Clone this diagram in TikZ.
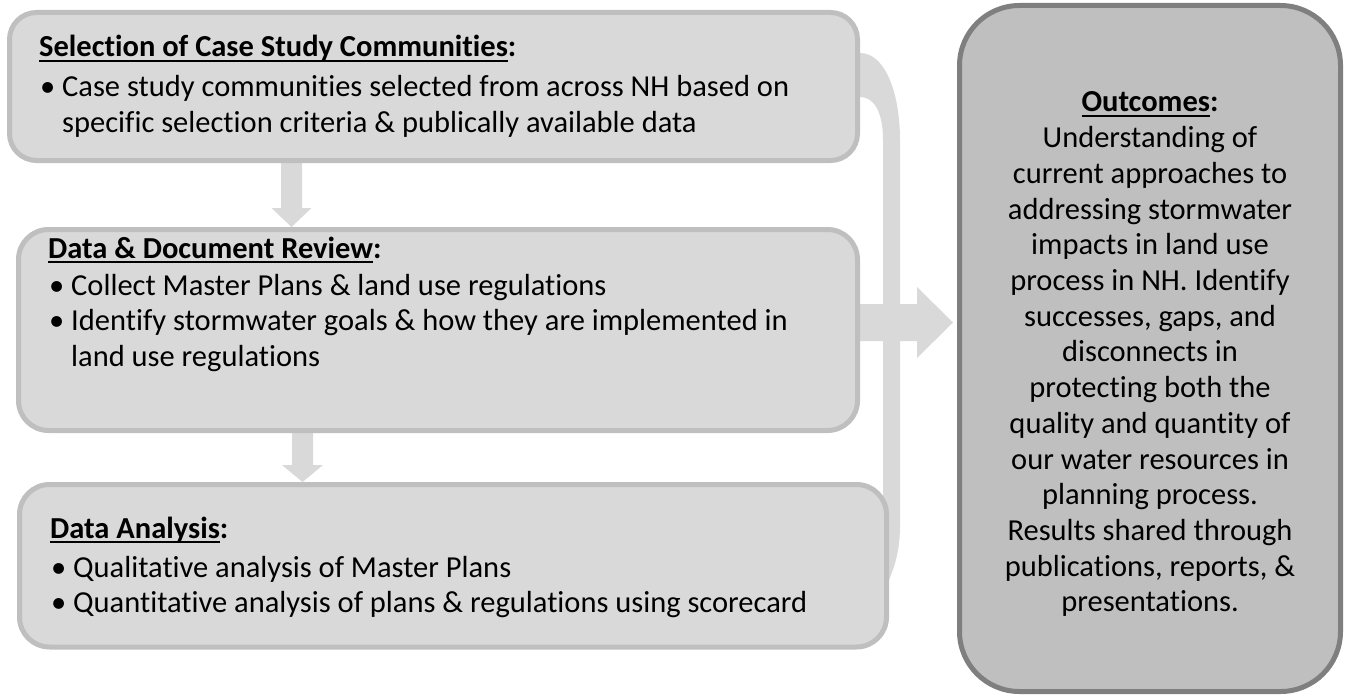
\documentclass[tikz,border=0pt]{standalone}
\usepackage{fontspec}
\setmainfont{Carlito}[Ligatures=NoCommon]
\usetikzlibrary{calc}
\definecolor{boxfill}{HTML}{D9D9D9}
\definecolor{boxline}{HTML}{BFBFBF}
\definecolor{outfill}{HTML}{BFBFBF}
\definecolor{outline}{HTML}{7F7F7F}
\newcommand\myul[1]{\setbox0\hbox{#1}\rlap{\rule[-5pt]{\wd0}{2pt}}\box0}
\begin{document}
\begin{tikzpicture}[x=1pt,y=-1pt,
  stepbox/.style={draw=boxline, fill=boxfill, line width=5pt, rounded corners=30pt, rectangle, inner sep=0pt},
  outbox/.style={draw=outline, fill=outfill, line width=5pt, rounded corners=60pt, rectangle, inner sep=0pt},
  blockfill/.style={fill=boxfill, draw=none},
  txt/.style={anchor=base west, inner sep=0pt, font=\fontsize{30.5pt}{35.5pt}\selectfont},
  otxt/.style={anchor=base, inner sep=0pt, font=\fontsize{30.5pt}{35.5pt}\selectfont}]
\useasboundingbox (0,0) rectangle (1348,698);

% node frames (drawn later), define coordinates first
\path (433.5,86.5) node[stepbox, minimum width=848pt, minimum height=148pt, draw=none, fill=none] (b1) {};
\path (438,330) node[stepbox, minimum width=839pt, minimum height=201pt, draw=none, fill=none] (b2) {};
\path (453,565.75) node[stepbox, minimum width=867pt, minimum height=162.5pt, draw=none, fill=none] (b3) {};
\path (1150,348.5) node[outbox, minimum width=381pt, minimum height=686pt, draw=none, fill=none] (rb) {};

% bracket band
\fill[blockfill] (850,53) -- (860,53) .. controls (886,53) and (900,95) .. (900,140)
  -- (900,525) .. controls (900,548) and (896,563) .. (889,580) -- (870,580)
  -- (883,500) -- (883,140) .. controls (883,112) and (874,97) .. (860,97) -- (850,97) -- cycle;

% down arrow 1
\coordinate (d1) at (291.5,0);
\fill[blockfill] ($(d1 |- b1.south)+(-10.5,-8)$) -- ++(21,0)
  -- ($(d1 |- b2.north)+(10.5,-19)$) -- ++(9.5,0) -- (d1 |- b2.north)
  -- ($(d1 |- b2.north)+(-20,-19)$) -- ++(9.5,0) -- cycle;
% down arrow 2
\coordinate (d2) at (302.5,0);
\fill[blockfill] ($(d2 |- b2.south)+(-10.5,-8)$) -- ++(21,0)
  -- ($(d2 |- b3.north)+(10.5,-17)$) -- ++(10,0) -- (d2 |- b3.north)
  -- ($(d2 |- b3.north)+(-20.5,-17)$) -- ++(10,0) -- cycle;
% horizontal arrow
\coordinate (h1) at (0,322.5);
\fill[blockfill] ($(b2.east |- h1)+(-8,-18.5)$) -- ($(rb.west |- h1)+(-40,-18.5)$)
  -- ++(0,-17) -- ($(rb.west |- h1)+(-4,0)$) -- ($(rb.west |- h1)+(-40,35.5)$)
  -- ++(0,-17) -- ($(b2.east |- h1)+(-8,18.5)$) -- cycle;

% boxes
\node[stepbox, minimum width=848pt, minimum height=148pt, rounded corners=27pt] at (b1) {};
\node[stepbox, minimum width=839pt, minimum height=201pt] at (b2) {};
\node[stepbox, minimum width=867pt, minimum height=162.5pt] at (b3) {};
\node[outbox, minimum width=381pt, minimum height=686pt] at (rb) {};

% box 1 text
\node[txt] (t1) at (39,57) {\textbf{\myul{Selection of Case Study Communities}:}};
\node[txt] (t1b1) at (40,97) {\textbullet};
\node[txt] (t1l1) at (62,97) {Case study communities selected from across NH based on};
\node[txt] (t1l2) at (62,132.5) {specific selection criteria \& publically available data};

% box 2 text
\node[txt] (t2) at (48,258) {\textbf{\myul{Data \& Document Review}:}};
\node[txt] (t2b1) at (49,295) {\textbullet};
\node[txt] (t2l1) at (71,295) {Collect Master Plans \& land use regulations};
\node[txt] (t2b2) at (49,330.5) {\textbullet};
\node[txt] (t2l2) at (71,330.5) {Identify stormwater goals \& how they are implemented in};
\node[txt] (t2l3) at (71,366) {land use regulations};

% box 3 text
\node[txt] (t3) at (50,538) {\textbf{\myul{Data Analysis}:}};
\node[txt] (t3b1) at (51,577) {\textbullet};
\node[txt] (t3l1) at (73,577) {Qualitative analysis of Master Plans};
\node[txt] (t3b2) at (51,612.5) {\textbullet};
\node[txt] (t3l2) at (73,612.5) {Quantitative analysis of plans \& regulations using scorecard};

% outcomes text
\foreach \t [count=\i] in {{\textbf{\myul{Outcomes}:}},{Understanding of},{current approaches to},
  {addressing stormwater},{impacts in land use},{process in NH. Identify},{successes, gaps, and},
  {disconnects in},{protecting both the},{quality and quantity of},{our water resources in},
  {planning process.},{Results shared through},{publications, reports, \&},{presentations.}}
  \node[otxt] (o\i) at (1150,{112+35.7*(\i-1)}) {\t};
\end{tikzpicture}
\end{document}
